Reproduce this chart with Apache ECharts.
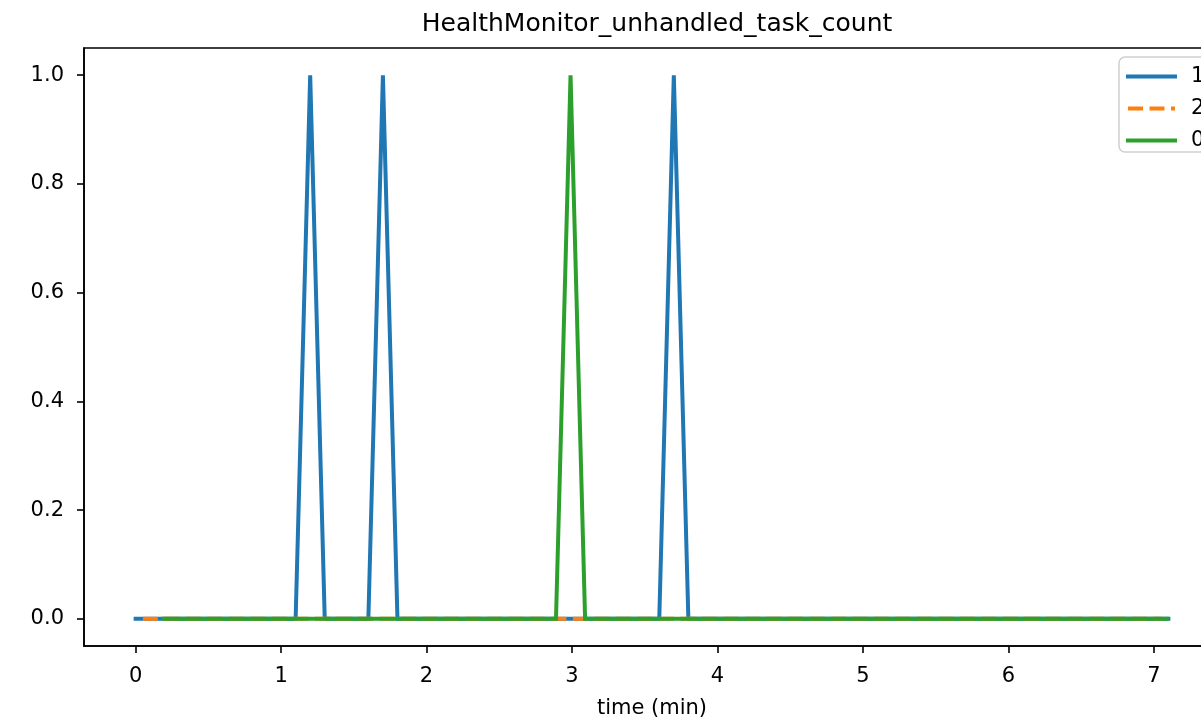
<!DOCTYPE html>
<html>
<head>
<meta charset="utf-8">
<script src="https://cdn.jsdelivr.net/npm/echarts@6/dist/echarts.min.js"></script>
<style>
html,body{margin:0;padding:0;background:#fff;}
#chart{width:1201px;height:721px;}
</style>
</head>
<body>
<div id="chart"></div>
<script>
// Data (time in minutes, value) — breakpoints of each series
const seriesNames = ['1', '2', '0'];
const series1 = [[0, 0], [1.1, 0], [1.2, 1], [1.3, 0], [1.6, 0], [1.7, 1], [1.8, 0], [3.6, 0], [3.7, 1], [3.8, 0], [7.1, 0]];
const series2 = [[0.05, 0], [7.05, 0]];
const series0 = [[0.19, 0], [2.89, 0], [2.99, 1], [3.09, 0], [7.09, 0]];
const xTicks = [0, 1, 2, 3, 4, 5, 6, 7];
const yTicks = [0, 0.2, 0.4, 0.6, 0.8, 1.0];
const colors = ['#1f77b4', '#ff7f0e', '#2ca02c'];

const FONT = 'DejaVu Sans';
const chart = echarts.init(document.getElementById('chart'), null, {renderer: 'canvas'});
chart.setOption({
  animation: false,
  backgroundColor: '#fff',
  title: {
    text: 'HealthMonitor_unhandled_task_count',
    left: 652, top: 7, textAlign: 'center',
    textStyle: {fontFamily: FONT, fontSize: 25, fontWeight: 'normal', color: '#000'}
  },
  legend: {
    orient: 'vertical',
    left: 1119, top: 57,
    padding: [9, 20, 1, 7],
    itemWidth: 47, itemHeight: 14, itemGap: 11,
    backgroundColor: '#fff',
    borderColor: '#d0d0d0', borderWidth: 1.5, borderRadius: 6,
    itemStyle: {opacity: 0},
    lineStyle: {width: 4},
    textStyle: {fontFamily: FONT, fontSize: 21, color: '#000', padding: [0, 0, 0, 11]},
    data: seriesNames
  },
  grid: {
    left: 84, right: -19, top: 48, bottom: 75,
    outerBoundsMode: 'none', containLabel: false,
    show: true, borderColor: '#000', borderWidth: 1.6, backgroundColor: 'transparent'
  },
  xAxis: {
    type: 'value', min: -0.355, max: 7.455,
    name: 'time (min)', nameLocation: 'middle', nameGap: 52,
    nameTextStyle: {fontFamily: FONT, fontSize: 21, color: '#000'},
    axisLine: {show: true, onZero: false, lineStyle: {color: '#000', width: 1.6}},
    axisTick: {show: true, length: 7, lineStyle: {color: '#000', width: 1.6}, customValues: xTicks},
    axisLabel: {fontFamily: FONT, fontSize: 21, color: '#000', margin: 20, customValues: xTicks,
      formatter: v => String(v)},
    splitLine: {show: false}
  },
  yAxis: {
    type: 'value', min: -0.05, max: 1.05,
    axisLine: {show: true, onZero: false, lineStyle: {color: '#000', width: 1.6}},
    axisTick: {show: true, length: 7, lineStyle: {color: '#000', width: 1.6}, customValues: yTicks},
    axisLabel: {fontFamily: FONT, fontSize: 21, color: '#000', margin: 20, customValues: yTicks,
      formatter: v => v.toFixed(1)},
    splitLine: {show: false}
  },
  series: [
    {name: seriesNames[0], type: 'line', data: series1, symbol: 'none', color: colors[0],
      lineStyle: {width: 4, color: colors[0], cap: 'square', join: 'miter'}},
    {name: seriesNames[1], type: 'line', data: series2, symbol: 'none', color: colors[1],
      lineStyle: {width: 4, color: colors[1], type: [15, 6.5], cap: 'butt'}},
    {name: seriesNames[2], type: 'line', data: series0, symbol: 'none', color: colors[2],
      lineStyle: {width: 4, color: colors[2], cap: 'square', join: 'miter'}}
  ]
});
</script>
</body>
</html>
